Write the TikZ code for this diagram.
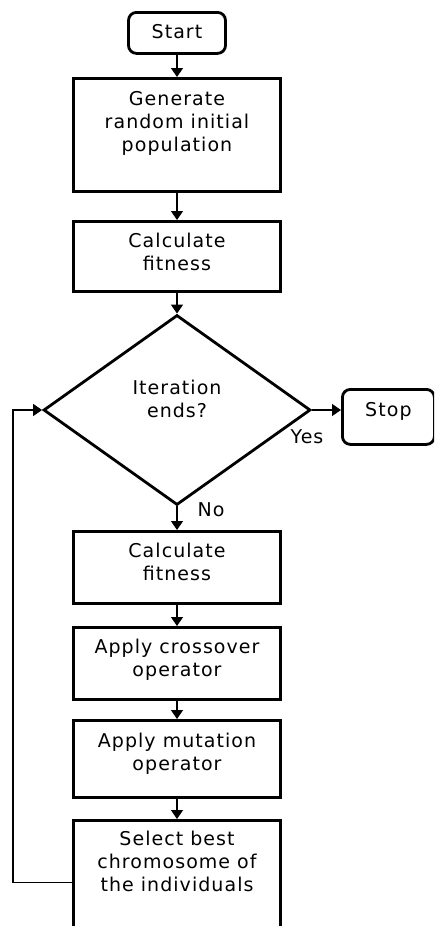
\documentclass[tikz,border=0pt]{standalone}
\usepackage{fontspec}
\setmainfont{DejaVu Sans}[LetterSpace=5.5]
\usetikzlibrary{shapes.geometric,arrows.meta}

\begin{document}
\begin{tikzpicture}[x=1pt,y=-1pt,
  font=\fontsize{19}{23}\selectfont,
  box/.style={draw,line width=2.8pt,minimum width=207pt,inner xsep=4pt,inner ysep=0pt,
    align=center,anchor=north},
  term/.style={box,rounded corners=8pt},
  flow/.style={line width=1.4pt,-{Triangle[length=9pt,width=12pt]}}]
\useasboundingbox (0,0) rectangle (434,926);
\clip (0,0) rectangle (434,926);

% Main column
\node[term,minimum width=97pt,text height=26pt,text depth=15pt] (start) at (177,11) {Start};
\node[box,text height=73pt,text depth=40pt] (init) at (177,77) {Generate\\random initial\\population};
\node[box,text height=49pt,text depth=21pt] (fit1) at (177,220) {Calculate\\fitness};
\node[draw,diamond,line width=2.8pt,minimum width=267pt,minimum height=190pt,
  inner sep=0pt,text height=45pt,text depth=30pt,align=center] (iter) at (177,410) {Iteration\\ends?};
\node[box,text height=49pt,text depth=23pt] (fit2) at (177,530) {Calculate\\fitness};
\node[box,text height=49pt,text depth=23pt] (cross) at (177,626) {Apply crossover\\operator};
\node[box,text height=50pt,text depth=27pt] (mut) at (177,719) {Apply mutation\\operator};
\node[box,text height=71pt,text depth=53pt] (sel) at (177,819) {Select best\\chromosome of\\the individuals};

% Exit
\node[term,minimum width=92pt,text height=27pt,text depth=28pt,anchor=north west] (stop) at (341,388) {Stop};

% Arrows
\draw[flow] (start) -- (init);
\draw[flow] (init) -- (fit1);
\draw[flow] (fit1) -- (iter);
\draw[flow] (iter) -- (fit2);
\draw[flow] (fit2) -- (cross);
\draw[flow] (cross) -- (mut);
\draw[flow] (mut) -- (sel);
\draw[flow] (iter.east) -- (iter.east -| stop.west);

% Loop back
\coordinate (back) at (13,881);
\draw[flow] (sel.west) -- (sel.west -| back) -- (iter.west -| back) -- (iter.west);

% Labels
\node (yes) at (307,437) {Yes};
\node (no) at (211,510) {No};
\end{tikzpicture}
\end{document}
